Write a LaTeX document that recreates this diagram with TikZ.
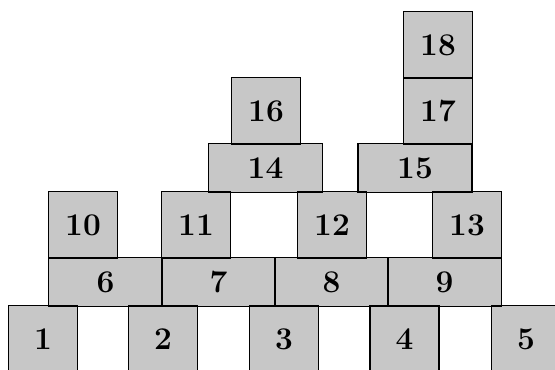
\documentclass[tikz,border=0pt]{standalone}
\usepackage{tikz}

\begin{document}
\begin{tikzpicture}[x=0.02cm, y=-0.02cm,
    block/.style={fill=black!22, inner sep=0pt,
                  font=\fontsize{18}{21}\selectfont\bfseries},
    sqblock/.style={block, minimum width=1.36cm, minimum height=1.32cm},
    wideblock/.style={block, minimum width=2.26cm, minimum height=0.96cm}
]
\useasboundingbox (0,0) rectangle (555,369);
\clip (0,0) rectangle (555,369);
% bottom row
\node[sqblock] (b1) at (43,339) {1};
\node[sqblock] (b2) at (163,339) {2};
\node[sqblock] (b3) at (284,339) {3};
\node[sqblock] (b4) at (404.5,339) {4};
\node[sqblock] (b5) at (526,339) {5};
% second row
\node[wideblock] (b6) at (105.5,282) {6};
\node[wideblock] (b7) at (218.5,282) {7};
\node[wideblock] (b8) at (331.5,282) {8};
\node[wideblock] (b9) at (444.5,282) {9};
% third row
\node[sqblock] (b10) at (83,225) {10};
\node[sqblock] (b11) at (196,225) {11};
\node[sqblock] (b12) at (332,225) {12};
\node[sqblock] (b13) at (467,225) {13};
% upper rows
\node[wideblock] (b14) at (265.5,168) {14};
\node[wideblock] (b15) at (415,168) {15};
\node[sqblock] (b16) at (266,111) {16};
\node[sqblock] (b17) at (438,111) {17};
\node[sqblock] (b18) at (438,45) {18};
% outlines on top of all fills
\foreach \i in {1,...,18}
  \draw[line width=0.9pt] (b\i.north west) rectangle (b\i.south east);
\end{tikzpicture}
\end{document}
